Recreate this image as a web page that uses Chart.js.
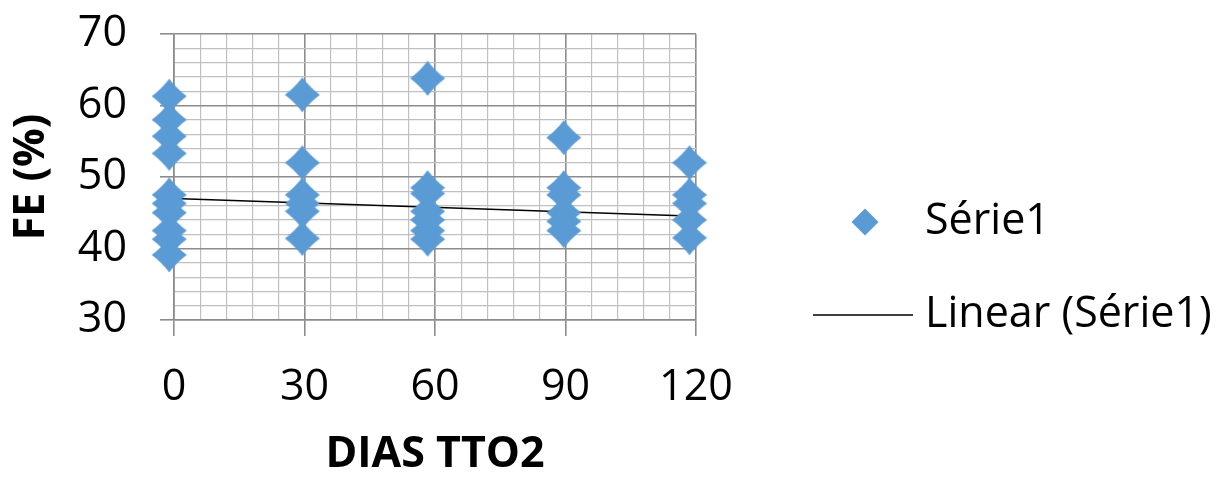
<!DOCTYPE html>
<html>
<head>
<meta charset="utf-8">
<script src="https://cdn.jsdelivr.net/npm/chart.js@4/dist/chart.umd.min.js"></script>
<style>
  html, body { margin: 0; padding: 0; background: #ffffff; }
  #c { display: block; }
</style>
</head>
<body>
<canvas id="c" width="1224" height="481"></canvas>
<script>
// Days of treatment at which FE (%) was measured
const dayGroups = [-1.1, 29.5, 58.3, 89.6, 118.5];

// FE (%) readings per measurement day
const feDay0   = [61.3, 58.0, 55.7, 53.3, 47.5, 46.3, 45.0, 42.5, 41.3, 39.1];
const feDay30  = [61.5, 52.0, 47.5, 46.3, 45.2, 41.4];
const feDay60  = [63.8, 48.5, 47.7, 45.2, 44.0, 42.5, 41.3];
const feDay90  = [55.5, 48.5, 47.5, 45.0, 43.8, 42.5];
const feDay120 = [52.0, 47.5, 46.3, 44.0, 41.5];
const feByDay  = [feDay0, feDay30, feDay60, feDay90, feDay120];

// Linear trend (Série1), start and end of the fitted line
const trendDays = [0, 120];
const trendFE   = [47.0, 44.5];

// Labelled ticks on each axis
const xTickLabels = [0, 30, 60, 90, 120];
const yTickLabels = [30, 40, 50, 60, 70];

const seriesName = 'Série1';
const trendName  = 'Linear (Série1)';
const xTitle = 'DIAS TTO2';
const yTitle = 'FE (%)';

const FONT = '"Open Sans", "Noto Sans", "DejaVu Sans", sans-serif';
const BLUE = '#5b9bd5';
const MAJOR = '#8c8c8c';
const MINOR = '#c0c0c0';

// Points listed from the last day back to the first, so every marker is kept
// (the first day sits just left of the axis minimum)
const points = [];
for (let i = dayGroups.length - 1; i >= 0; i--) {
  feByDay[i].forEach(v => points.push({ x: dayGroups[i], y: v }));
}
const trendPoints = trendDays.map((d, i) => ({ x: d, y: trendFE[i] }));

// Four-pointed diamond marker with slightly pinched sides
function makeMarker(color) {
  const size = 38, m = size / 2, tip = 17.5, c = 7.5;
  const cv = document.createElement('canvas');
  cv.width = size; cv.height = size;
  const g = cv.getContext('2d');
  g.fillStyle = color;
  g.beginPath();
  g.moveTo(m, m - tip);
  g.quadraticCurveTo(m + c, m - c, m + tip, m);
  g.quadraticCurveTo(m + c, m + c, m, m + tip);
  g.quadraticCurveTo(m - c, m + c, m - tip, m);
  g.quadraticCurveTo(m - c, m - c, m, m - tip);
  g.closePath();
  g.fill();
  return cv;
}

// Legend on the right: marker row and trend-line row
const sideLegend = {
  id: 'sideLegend',
  afterDraw(chart) {
    const ctx = chart.ctx;
    const left = chart.chartArea.right;
    ctx.save();
    ctx.font = '43px ' + FONT;
    ctx.textBaseline = 'middle';
    ctx.textAlign = 'left';

    const r1 = 222, r2 = 315;
    const mx = left + 169, h = 13.5;
    ctx.fillStyle = BLUE;
    ctx.beginPath();
    ctx.moveTo(mx, r1 - h); ctx.lineTo(mx + h, r1); ctx.lineTo(mx, r1 + h); ctx.lineTo(mx - h, r1);
    ctx.closePath(); ctx.fill();

    ctx.strokeStyle = '#000';
    ctx.lineWidth = 1.5;
    ctx.beginPath();
    ctx.moveTo(left + 117, r2); ctx.lineTo(left + 217, r2);
    ctx.stroke();

    ctx.fillStyle = '#000';
    ctx.fillText(seriesName, left + 229, r1);
    ctx.fillText(trendName, left + 229, r2);
    ctx.restore();
  }
};

function build() {
  const majorX = v => xTickLabels.includes(v);
  const majorY = v => yTickLabels.includes(v);

  new Chart(document.getElementById('c'), {
    type: 'scatter',
    data: {
      datasets: [
        {
          label: seriesName,
          data: points,
          pointStyle: makeMarker(BLUE),
          backgroundColor: BLUE,
          borderColor: BLUE,
          clip: false,
          order: 1
        },
        {
          label: trendName,
          type: 'line',
          data: trendPoints,
          borderColor: '#000',
          borderWidth: 1.5,
          pointRadius: 0,
          showLine: true,
          fill: false,
          order: 2
        }
      ]
    },
    options: {
      responsive: false,
      animation: false,
      events: [],
      layout: { padding: { left: 6, top: 34, right: 528, bottom: 0 } },
      plugins: { legend: { display: false }, tooltip: { enabled: false } },
      scales: {
        x: {
          type: 'linear',
          min: 0, max: 120,
          ticks: {
            stepSize: 6, autoSkip: false, maxTicksLimit: 100, maxRotation: 0,
            padding: 26, color: '#000',
            font: { family: FONT, size: 43 },
            callback: v => majorX(v) ? String(v) : ''
          },
          grid: {
            color: c => majorX(c.tick.value) ? MAJOR : MINOR,
            lineWidth: c => majorX(c.tick.value) ? 1.6 : 1.2,
            tickLength: 16,
            tickColor: c => majorX(c.tick.value) ? MAJOR : 'rgba(0,0,0,0)',
            tickWidth: 1.6
          },
          border: { display: true, color: MAJOR, width: 1.6 },
          title: {
            display: true, text: xTitle, color: '#000',
            font: { family: FONT, size: 43, weight: 'bold' },
            padding: { top: 0, bottom: 0 }
          },
          afterFit: s => {
            s.height = 481 - 320;
            s.paddingLeft = 0; s.paddingRight = 0;
          }
        },
        y: {
          type: 'linear',
          min: 30, max: 70,
          ticks: {
            stepSize: 2, autoSkip: false, maxTicksLimit: 100,
            padding: 33, color: '#000',
            font: { family: FONT, size: 43 },
            callback: v => majorY(v) ? String(v) : ''
          },
          grid: {
            color: c => majorY(c.tick.value) ? MAJOR : MINOR,
            lineWidth: c => majorY(c.tick.value) ? 1.6 : 1.2,
            tickLength: 14,
            tickColor: c => majorY(c.tick.value) ? MAJOR : 'rgba(0,0,0,0)',
            tickWidth: 1.6
          },
          border: { display: true, color: MAJOR, width: 1.6 },
          title: {
            display: true, text: yTitle, color: '#000',
            font: { family: FONT, size: 43, weight: 'bold' },
            padding: { top: 0, bottom: 0 }
          },
          afterFit: s => {
            s.width = 174 - 6;
            s.paddingTop = 0; s.paddingBottom = 0;
          }
        }
      }
    },
    plugins: [sideLegend]
  });
}

Promise.all([
  document.fonts.load('43px "Open Sans"'),
  document.fonts.load('bold 43px "Open Sans"')
]).then(build, build);
</script>
</body>
</html>
